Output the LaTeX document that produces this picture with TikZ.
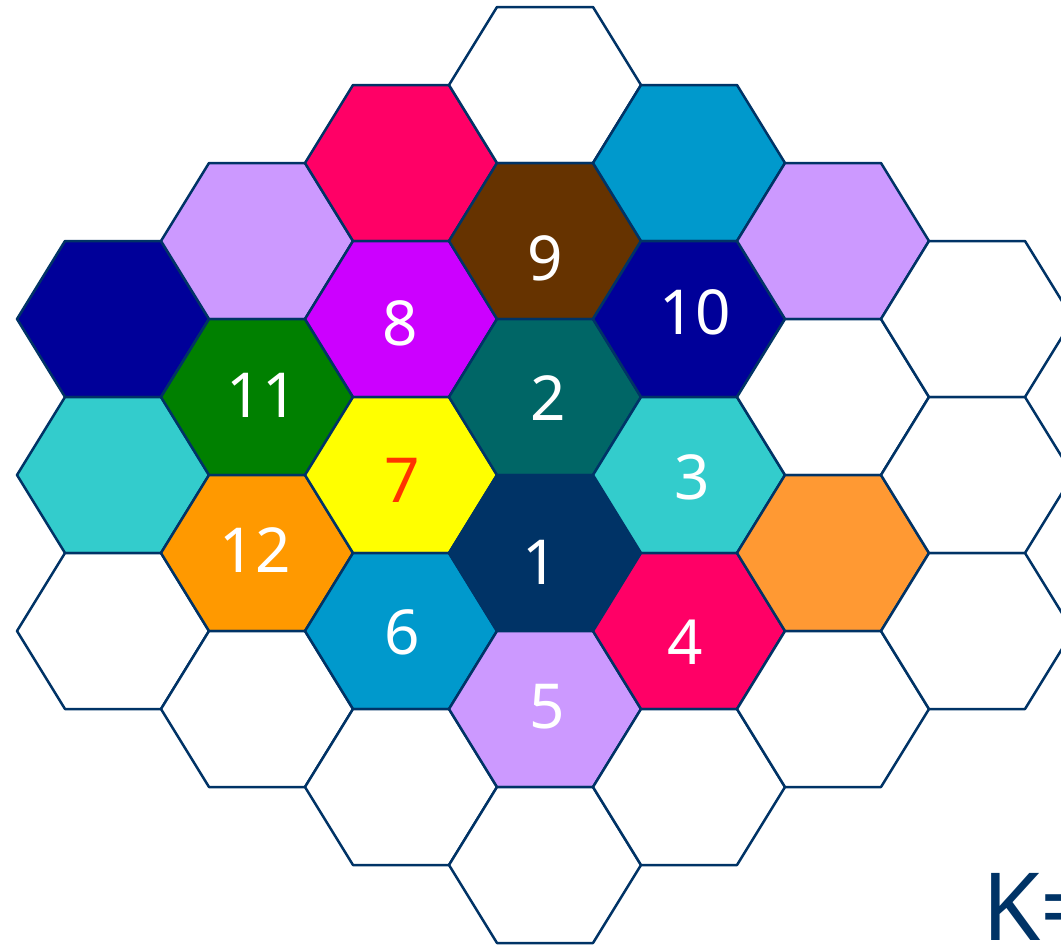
\documentclass[tikz,border=0pt]{standalone}
\usepackage{fontspec}
\setmainfont{Noto Sans}
\definecolor{edge}{HTML}{003366}
\definecolor{cpink}{HTML}{FF0066}
\definecolor{clav}{HTML}{CC99FF}
\definecolor{cnavy}{HTML}{000099}
\definecolor{cgreen}{HTML}{008000}
\definecolor{cteal}{HTML}{33CCCC}
\definecolor{corange}{HTML}{FF9900}
\definecolor{corangeb}{HTML}{FF9933}
\definecolor{cblue}{HTML}{0099CC}
\definecolor{cbrown}{HTML}{663300}
\definecolor{cmag}{HTML}{CC00FF}
\definecolor{cdteal}{HTML}{006666}
\definecolor{cdark}{HTML}{003366}
\definecolor{cyel}{HTML}{FFFF00}
\definecolor{cred}{HTML}{FF3300}
\newcommand\hexcell[3]{%
  \draw[hexline, fill=#3] ({#1-96},{#2}) -- ({#1-48},{#2-78}) -- ({#1+48},{#2-78})
    -- ({#1+96},{#2}) -- ({#1+48},{#2+78}) -- ({#1-48},{#2+78}) -- cycle;}
\begin{document}
\begin{tikzpicture}[x=1pt,y=-1pt,
  hexline/.style={draw=edge, line width=2.5pt, line join=round},
  num/.style={text=white, font=\fontsize{62}{62}\selectfont, inner sep=0pt}]
\useasboundingbox (0,0) rectangle (1061,946);
\clip (0,0) rectangle (1061,946);
% column A
\hexcell{113}{319}{cnavy}
\hexcell{113}{475}{cteal}
\hexcell{113}{631}{white}
% column B
\hexcell{257}{241}{clav}
\hexcell{257}{397}{cgreen}
\hexcell{257}{553}{corange}
\hexcell{257}{709}{white}
% column C
\hexcell{401}{163}{cpink}
\hexcell{401}{319}{cmag}
\hexcell{401}{475}{cyel}
\hexcell{401}{631}{cblue}
\hexcell{401}{787}{white}
% column D
\hexcell{545}{85}{white}
\hexcell{545}{241}{cbrown}
\hexcell{545}{397}{cdteal}
\hexcell{545}{553}{cdark}
\hexcell{545}{709}{clav}
\hexcell{545}{865}{white}
% column E
\hexcell{689}{163}{cblue}
\hexcell{689}{319}{cnavy}
\hexcell{689}{475}{cteal}
\hexcell{689}{631}{cpink}
\hexcell{689}{787}{white}
% column F
\hexcell{833}{241}{clav}
\hexcell{833}{397}{white}
\hexcell{833}{553}{corangeb}
\hexcell{833}{709}{white}
% column G
\hexcell{977}{319}{white}
\hexcell{977}{475}{white}
\hexcell{977}{631}{white}
% labels
\node[num] (n9) at (545,258) {9};
\node[num] (n10) at (695,312) {10};
\node[num] (n8) at (400,323) {8};
\node[num] (n11) at (262,395) {11};
\node[num] (n2) at (548,398) {2};
\node[num, text=cred] (n7) at (402,480) {7};
\node[num] (n3) at (692,477) {3};
\node[num] (n12) at (255,550) {12};
\node[num] (n1) at (540,562) {1};
\node[num] (n6) at (402,632) {6};
\node[num] (n4) at (685,642) {4};
\node[num] (n5) at (547,707) {5};
\node[anchor=base west, inner sep=0pt, text=edge, font=\fontsize{94}{94}\selectfont] (klabel) at (982,940) {K=};
\end{tikzpicture}
\end{document}
